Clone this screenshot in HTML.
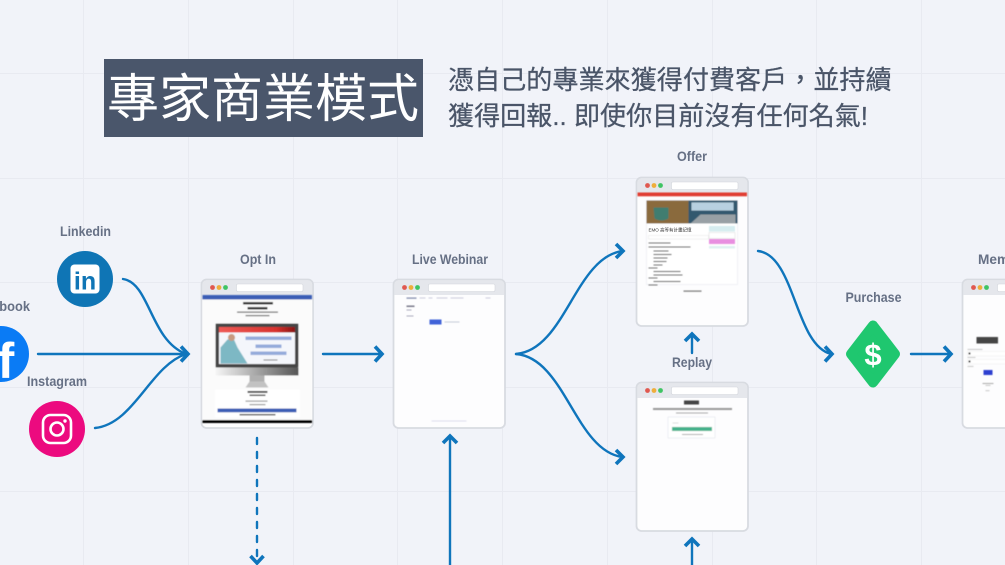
<!DOCTYPE html>
<html lang="zh-Hant"><head><meta charset="utf-8"><title>專家商業模式</title>
<style>
html,body{margin:0;padding:0;width:1005px;height:565px;overflow:hidden;background:#f1f3f9}
svg{display:block}
.l{font:bold 14px "Liberation Sans",sans-serif;fill:#667085;text-anchor:middle}
.c{fill:none;stroke:#0f75bc;stroke-width:2.4;stroke-linecap:round}
.h{fill:none;stroke:#0f75bc;stroke-width:3.6;stroke-linecap:butt;stroke-linejoin:miter}
.t{font-family:"Liberation Sans","Noto Sans CJK TC",sans-serif}
</style></head><body>
<svg width="1005" height="565" viewBox="0 0 1005 565" xmlns="http://www.w3.org/2000/svg">
<defs>
<filter id="b" x="-5%" y="-5%" width="110%" height="110%"><feGaussianBlur stdDeviation="0.45"/></filter>
<linearGradient id="mon" x1="0" x2="1"><stop offset="0" stop-color="#f6f6f6"/><stop offset="1" stop-color="#555"/></linearGradient>
<linearGradient id="red" x1="0" x2="1"><stop offset="0" stop-color="#ee5a55"/><stop offset=".75" stop-color="#d8322e"/><stop offset="1" stop-color="#8a1512"/></linearGradient>
<g id="win">
<rect x="0" y="0" width="111.500" height="148.500" rx="5" fill="#fdfdfe" stroke="#d8dbe1" stroke-width="1.800"/>
<path d="M0.900 15.500V5a4.200 4.200 0 0 1 4.200-4.200h101.300a4.200 4.200 0 0 1 4.200 4.200V15.500z" fill="#e5e7ec"/>
<circle cx="11" cy="8" r="2.400" fill="#e0584f"/><circle cx="17.500" cy="8" r="2.400" fill="#efae3b"/><circle cx="24" cy="8" r="2.400" fill="#3fc463"/>
<rect x="35" y="4.500" width="66.500" height="7.500" rx="1.500" fill="#fff" stroke="#d3d6dc" stroke-width=".6"/>
</g>
</defs>
<rect width="1005" height="565" fill="#f1f3f9"/>
<g stroke="#e8eaf1" stroke-width="1">
<path d="M83.500 0V565M188.500 0V565M293.500 0V565M397.500 0V565M502.500 0V565M607.500 0V565M712.500 0V565M816.500 0V565M921.500 0V565M0 73.500H1005M0 178.500H1005M0 282.500H1005M0 387.500H1005M0 491.500H1005"/>
</g>
<rect x="104" y="59" width="319" height="78" fill="#4a566b"/>
<text class="t" x="107" y="117" font-size="52" fill="#fff">專家商業模式</text>
<text class="t" x="448" y="89" font-size="26.100" fill="#4a5568" stroke="#4a5568" stroke-width=".25">憑自己的專業來獲得付費客戶，並持續</text>
<text class="t" x="448" y="125" font-size="26.100" fill="#4a5568" stroke="#4a5568" stroke-width=".25" textLength="420" lengthAdjust="spacing">獲得回報.. 即使你目前沒有任何名氣!</text>

<text class="l" x="85.500" y="236" textLength="51" lengthAdjust="spacingAndGlyphs">Linkedin</text>
<text class="l" x="0" y="311" textLength="60" lengthAdjust="spacingAndGlyphs">Facebook</text>
<text class="l" x="57" y="386" textLength="60" lengthAdjust="spacingAndGlyphs">Instagram</text>
<text class="l" x="258" y="264" textLength="36" lengthAdjust="spacingAndGlyphs">Opt In</text>
<text class="l" x="450" y="264" textLength="76" lengthAdjust="spacingAndGlyphs">Live Webinar</text>
<text class="l" x="692" y="161" textLength="30" lengthAdjust="spacingAndGlyphs">Offer</text>
<text class="l" x="692" y="367" textLength="40" lengthAdjust="spacingAndGlyphs">Replay</text>
<text class="l" x="873.500" y="302" textLength="56" lengthAdjust="spacingAndGlyphs">Purchase</text>
<text class="l" x="1008" y="264" textLength="60" lengthAdjust="spacingAndGlyphs">Members</text>

<!-- social icons -->
<circle cx="85" cy="279" r="28" fill="#0f75b5"/>
<rect x="70.500" y="264.500" width="29" height="29" rx="4" fill="#fff"/>
<text x="85" y="289.500" font-family="Liberation Sans,sans-serif" font-weight="bold" font-size="25" fill="#0f75b5" text-anchor="middle">in</text>
<circle cx="1" cy="354" r="28" fill="#0a7bf5"/>
<text x="6" y="378" font-family="Liberation Sans,sans-serif" font-weight="bold" font-size="50" fill="#fff" text-anchor="middle">f</text>
<circle cx="57" cy="429" r="28" fill="#ec0a7f"/>
<rect x="43" y="415" width="28" height="28" rx="7.500" fill="none" stroke="#fff" stroke-width="2.600"/>
<circle cx="57" cy="429" r="6.500" fill="none" stroke="#fff" stroke-width="2.600"/>
<circle cx="65" cy="421" r="1.700" fill="#fff"/>

<!-- connectors -->
<path class="c" d="M123 279C150 283 150 340 186 354"/>
<path class="c" d="M38 354H186"/>
<path class="c" d="M95 428C134 424 150 366 186 354"/>
<path class="h" d="M181 346.500L188 354L181 361.500"/>
<path class="c" d="M323 354H380"/>
<path class="h" d="M375 346.500L382 354L375 361.500"/>
<path class="c" d="M516 354C565 350 575 258 622 251"/>
<path class="h" d="M616 244L623 251L616 258"/>
<path class="c" d="M516 354C565 358 575 450 622 457"/>
<path class="h" d="M616 450L623 457L616 464"/>
<path class="c" d="M758 251C795 255 795 345 831 354"/>
<path class="h" d="M825 346.500L832 354L825 361.500"/>
<path class="c" d="M911 354H949"/>
<path class="h" d="M944 346.500L951 354L944 361.500"/>
<path class="c" d="M692 353V336"/>
<path class="h" d="M685 341L692 334L699 341"/>
<path class="c" d="M450 565V438"/>
<path class="h" d="M443 443L450 436L457 443"/>
<path class="c" d="M692 565V541"/>
<path class="h" d="M685 546L692 539L699 546"/>
<path class="c" d="M257 438V556" stroke-dasharray="6 8" stroke-linecap="butt"/>
<path class="h" d="M250.500 556L257 563L263.500 556"/>

<!-- purchase diamond -->
<path d="M873 325.500L895 354L873 382.500L851 354Z" fill="#1fc76f" stroke="#1fc76f" stroke-width="10" stroke-linejoin="round"/>
<text x="873" y="365" font-family="Liberation Sans,sans-serif" font-weight="bold" font-size="31" fill="#fff" text-anchor="middle">$</text>

<!-- Opt In -->
<g transform="translate(201.500 279.500)"><use href="#win"/>
<g filter="url(#b)">
<rect x="1" y="15.500" width="109.500" height="4.500" fill="#3b5db5"/>
<rect x="1" y="20" width="109.500" height="121" fill="#fbfbfb"/>
<rect x="41.500" y="22.500" width="30" height="2.500" fill="#333"/><rect x="46" y="27.500" width="20" height="2.500" fill="#333"/>
<rect x="35.500" y="32" width="41" height="1.200" fill="#666"/><rect x="44" y="35.500" width="24" height="1.200" fill="#666"/>
<rect x="14" y="44" width="83" height="44" rx="1" fill="#444"/>
<rect x="17.500" y="47.500" width="76" height="37" fill="#f4f6fb"/>
<rect x="17.500" y="47.500" width="76" height="5.500" fill="url(#red)"/>
<path d="M19 84V68l7-8 6-1 4 9 10 16z" fill="#7db8c4"/>
<circle cx="30" cy="58" r="3.500" fill="#c79a80"/>
<rect x="44" y="57" width="46" height="3.500" fill="#94abdb"/><rect x="54" y="65" width="26" height="3.500" fill="#94abdb"/><rect x="49" y="72" width="36" height="3.500" fill="#94abdb"/>
<rect x="62" y="80" width="14" height="1" fill="#777"/>
<rect x="14" y="88" width="83" height="8" fill="url(#mon)"/>
<rect x="48" y="96" width="15" height="6" fill="#b0b0b0"/><path d="M44 108l4-6h15l4 6z" fill="#c2c2c2"/>
<rect x="13.500" y="110" width="85" height="28" fill="#fff"/>
<rect x="46" y="111.500" width="20" height="1.800" fill="#333"/><rect x="48" y="115" width="16" height="1.500" fill="#444"/>
<rect x="44" y="121" width="22" height="1.200" fill="#999"/><rect x="48" y="124.500" width="16" height="1.200" fill="#999"/>
<rect x="16" y="129" width="79" height="3.800" fill="#3b5db5"/>
<rect x="38" y="134.500" width="36" height="1.400" fill="#444"/>
<rect x="1" y="140.500" width="109.500" height="3" fill="#000"/>
</g></g>

<!-- Live Webinar -->
<g transform="translate(393.500 279.500)"><use href="#win"/>
<g filter="url(#b)">
<rect x="13" y="18" width="10" height="1.200" fill="#7a86a8"/><rect x="26" y="18" width="6" height="1" fill="#ccd"/><rect x="35" y="18" width="4" height="1" fill="#ccd"/><rect x="43" y="18" width="11" height="1" fill="#ccd"/><rect x="57" y="18" width="13" height="1" fill="#ccd"/><rect x="92" y="18" width="5" height="1" fill="#ccd"/>
<rect x="13" y="26" width="8" height="1.500" fill="#778"/><rect x="13" y="30" width="5" height="1" fill="#aab"/><rect x="13" y="36" width="7" height="1" fill="#aab"/>
<rect x="36" y="40" width="12" height="5" fill="#3f63d8"/><rect x="51" y="42" width="15" height="1" fill="#c4cad6"/>
<rect x="38" y="141" width="35" height="1" fill="#dde"/>
</g></g>

<!-- Offer -->
<g transform="translate(636.500 177.500)"><use href="#win"/>
<g filter="url(#b)">
<rect x="1" y="15" width="109.500" height="3.800" fill="#e03c31"/>
<rect x="10" y="23" width="91" height="84" fill="#fff" stroke="#e6e8ee" stroke-width=".6"/>
<rect x="10" y="23" width="42" height="23" fill="#8a6a3e"/><rect x="52" y="23" width="49" height="23" fill="#33596e"/>
<path d="M17 30h15v11q-7 4-14 0z" fill="#3f7d70"/><path d="M54 46l10-9h35v9z" fill="#98a0a5"/>
<rect x="55" y="25" width="42" height="8" fill="#b8d0e0"/>
</g>
<text class="t" x="12" y="54" font-size="4.500" fill="#333">EMO 高等有計畫記憶</text>
<g filter="url(#b)">
<rect x="12" y="58" width="60" height="3.500" fill="#fff" stroke="#ddd" stroke-width=".4"/>
<g fill="#777"><rect x="12" y="65" width="22" height="1"/><rect x="12" y="69" width="42" height="1"/><rect x="17" y="73" width="15" height="1"/><rect x="17" y="76.500" width="18" height="1"/><rect x="17" y="80" width="14" height="1"/><rect x="17" y="83.500" width="13" height="1"/><rect x="17" y="87" width="9" height="1"/><rect x="12" y="90" width="9" height="1"/><rect x="17" y="93.500" width="27" height="1"/><rect x="17" y="97" width="29" height="1"/><rect x="12" y="100" width="9" height="1"/><rect x="17" y="103.500" width="27" height="1"/><rect x="12" y="107" width="9" height="1"/></g>
<rect x="72.500" y="48.500" width="26" height="5.500" fill="#d6edf0"/>
<rect x="72.500" y="55" width="26" height="6" fill="#fff" stroke="#ccc" stroke-width=".4"/>
<rect x="72.500" y="61.500" width="26" height="5" fill="#e88fe0"/>
<rect x="72.500" y="68.500" width="26" height="2.500" fill="#dff0f2"/>
<rect x="47" y="113" width="18" height="1.200" fill="#777"/>
</g></g>

<!-- Replay -->
<g transform="translate(636.500 382.500)"><use href="#win"/>
<g filter="url(#b)">
<rect x="47.500" y="18" width="15" height="4" fill="#444"/>
<rect x="16.500" y="25.500" width="79" height="2" fill="#999"/>
<rect x="39.500" y="30" width="32" height="1" fill="#aaa"/>
<rect x="31.500" y="34.500" width="47" height="21" fill="#fff" stroke="#e9ebf0" stroke-width=".8"/>
<rect x="36" y="40" width="6" height="1" fill="#ddd"/>
<rect x="35.500" y="44.500" width="40" height="4" fill="#46b28c"/>
<rect x="45.500" y="51.500" width="21" height="1" fill="#aaa"/>
</g></g>

<!-- Members -->
<g transform="translate(962.500 279.500)"><use href="#win"/>
<g filter="url(#b)">
<rect x="14" y="57.500" width="21.500" height="6.500" fill="#444"/>
<rect x="5" y="69.500" width="15" height=".8" fill="#bbb"/>
<rect x="5" y="72" width="60" height="4.500" fill="#fff" stroke="#e6e6e6" stroke-width=".4"/><rect x="6" y="73" width="2" height="2" fill="#222"/>
<rect x="5" y="77.500" width="8" height=".8" fill="#bbb"/>
<rect x="5" y="80" width="60" height="4.500" fill="#fff" stroke="#e6e6e6" stroke-width=".4"/><rect x="6" y="81" width="2" height="2" fill="#222"/>
<rect x="5" y="86.500" width="6" height=".8" fill="#bbb"/>
<rect x="21" y="90.500" width="9" height="5" fill="#2f3fd0"/>
<rect x="20" y="103.500" width="11" height="1" fill="#aaa"/><rect x="23" y="105.500" width="5" height=".8" fill="#bbb"/><rect x="23" y="110.800" width="4" height=".8" fill="#bbb"/>
</g></g>
</svg>
</body></html>
